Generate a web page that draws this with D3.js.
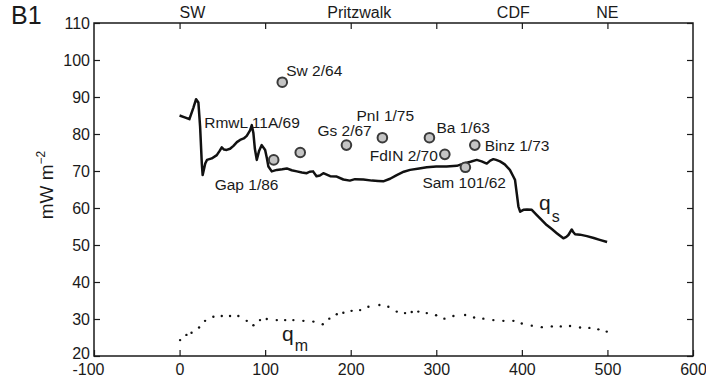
<!DOCTYPE html>
<html>
<head>
<meta charset="utf-8">
<script src="https://cdn.jsdelivr.net/npm/d3@7/dist/d3.min.js"></script>
<style>
  html, body { margin: 0; padding: 0; background: #fff; }
  svg { display: block; font-family: "Liberation Sans", Arial, Helvetica, sans-serif; }
</style>
</head>
<body>
<svg id="chart" width="706" height="378"></svg>
<script>
// Surface heat flow q_s along profile B1 (distance in km, flow in mW m^-2)
const qsDist = [0, 6, 11.5, 16, 19.3, 22, 24, 26, 27, 30, 32, 37.6, 43.5, 47, 49.3, 52, 55, 59, 63, 67,
  70.7, 75, 78.5, 82.4, 84.4, 86.3, 88, 90.2, 93, 96, 100, 102, 103.8, 107.7, 113.6, 120, 125.3, 131,
  137, 143, 148.6, 152, 156, 160, 164, 168, 176, 183.7, 191.4, 199, 205, 214.8, 225, 232, 238, 246,
  253.8, 262, 269.4, 280, 288.9, 300, 312, 324, 331.6, 340, 347.3, 353, 359, 363, 366.7, 370, 374.5,
  380, 386, 390, 392, 394, 396, 398, 401.8, 406, 411.6, 417.5, 423, 429, 435, 440.8, 448.5, 452,
  454.4, 458.3, 460, 462.2, 468, 476, 484, 491, 499.6];
const qsFlow = [85, 84.5, 84, 87, 89.4, 88.5, 82, 72, 68.9, 72, 73, 73.4, 74.3, 75.5, 76.4, 75.8, 75.7, 76, 76.8, 77.8,
  78.4, 78.8, 79.5, 81, 82.4, 80.2, 76, 73, 75.5, 77, 75.7, 73.5, 71.2, 69.9, 70.3, 70.5, 70.7, 70.2,
  69.9, 69.6, 69.4, 69.8, 69.9, 68.6, 68.8, 69.4, 68.6, 68.5, 67.7, 67.4, 67.8, 67.7, 67.4, 67.3, 67.2, 67.9,
  68.9, 69.8, 70.3, 70.7, 71, 71.2, 71.2, 71.4, 72, 72.5, 73, 72.6, 72, 72.8, 73.2, 73, 72.6,
  71.8, 70.3, 68.5, 67.6, 64, 60.4, 59, 59.5, 59.6, 59.5, 58.1, 56.8, 55.4, 54.3, 53.2, 51.8, 52.2,
  52.7, 54.2, 53.5, 52.9, 52.8, 52.4, 51.9, 51.4, 50.8];

// Mantle heat flow q_m, sampled points
const qmDist = [0.6, 8, 14, 22.8, 29.8, 39.5, 49.3, 59, 68.7, 78.5, 86.3, 94, 101.9, 113.6, 123.4, 133,
  144.7, 156.4, 167.3, 175, 183.7, 191.4, 201, 211, 220.7, 233.5, 244, 253.8, 263.5, 271.3, 279,
  288.9, 299.8, 309.5, 320, 333.7, 344.2, 355, 366.7, 378.4, 390.1, 399.9, 411.6, 423.3, 435, 445.5,
  456.3, 468, 478.9, 489.4, 499.2];
const qmFlow = [24.3, 25.7, 26.3, 27.7, 29.5, 30.6, 30.8, 30.8, 30.8, 29.5, 28.3, 29.7, 30, 29.7, 29.7, 29.7,
  29.5, 29.3, 28.6, 30.1, 31.3, 31.7, 32.2, 32.4, 33.3, 33.8, 33.3, 32, 31.6, 31.9, 32,
  31.6, 31, 30.1, 30.8, 31.1, 30.4, 30.1, 29.7, 29.5, 29.5, 28.8, 28.2, 27.8, 28, 28,
  28.1, 27.7, 27.6, 27.2, 26.6];

// Borehole stations
const stationNames = ["Sw 2/64", "RmwL 11A/69", "Gap 1/86", "Gs 2/67", "PnI 1/75", "Ba 1/63", "Binz 1/73", "FdIN 2/70", "Sam 101/62"];
const stationDist = [120, 141, 110, 195, 237, 292, 345, 310, 334];
const stationFlow = [94, 75, 73, 77, 79, 79, 77, 74.5, 71];
// label placement relative to each marker: [dx, dy, anchor]
const labelOffsets = [[4, -6, "start"], [-96, -25, "start"], [-59, 30, "start"], [-29, -9, "start"],
  [-26, -17, "start"], [7, -5, "start"], [10, 6, "start"], [-7, 7, "end"], [-43, 21, "start"]];

// Axis ticks and place names along the top edge
const xTicks = [-100, 0, 100, 200, 300, 400, 500, 600];
const yTicks = [20, 30, 40, 50, 60, 70, 80, 90, 100, 110];
const topTicks = [0, 100, 200, 300, 400, 500];
const placeNames = ["SW", "Pritzwalk", "CDF", "NE"];
const placeDist = [15, 210, 390, 500];

const svg = d3.select("#chart");
const x = d3.scaleLinear().domain([-100, 600]).range([94, 693]);
const y = d3.scaleLinear().domain([20, 110]).range([356, 23]);
const ink = "#1a1a1a";

// Frame
svg.append("rect")
  .attr("x", x(-100)).attr("y", y(110))
  .attr("width", x(600) - x(-100)).attr("height", y(20) - y(110))
  .attr("fill", "none").attr("stroke", ink).attr("stroke-width", 1.5);

// Bottom axis (ticks pointing inward)
const gx = svg.append("g").attr("transform", `translate(0,${y(20)})`)
  .call(d3.axisBottom(x).tickValues(xTicks).tickSizeInner(-6).tickSizeOuter(0).tickPadding(8)
    .tickFormat(d => d < 0 ? "-" + Math.abs(d) : d));
gx.select(".domain").remove();
gx.selectAll("line").attr("stroke", ink).attr("stroke-width", 1.2);
gx.selectAll("text").attr("font-size", 16).attr("fill", ink).attr("font-family", null)
  .attr("dx", d => d === -100 ? -6 : 0);

// Left axis
const gy = svg.append("g").attr("transform", `translate(${x(-100)},0)`)
  .call(d3.axisLeft(y).tickValues(yTicks).tickSizeInner(-6).tickSizeOuter(0).tickPadding(4));
gy.select(".domain").remove();
gy.selectAll("line").attr("stroke", ink).attr("stroke-width", 1.2);
gy.selectAll("text").attr("font-size", 16).attr("fill", ink).attr("font-family", null)
  .attr("y", d => d === 20 ? -3 : 0);

// Mirrored ticks on top and right
const gt = svg.append("g").attr("transform", `translate(0,${y(110)})`)
  .call(d3.axisTop(x).tickValues(topTicks).tickSizeInner(-6).tickSizeOuter(0).tickFormat(""));
gt.select(".domain").remove();
gt.selectAll("line").attr("stroke", ink).attr("stroke-width", 1.2);

const gr = svg.append("g").attr("transform", `translate(${x(600)},0)`)
  .call(d3.axisRight(y).tickValues(yTicks).tickSizeInner(-6).tickSizeOuter(0).tickFormat(""));
gr.select(".domain").remove();
gr.selectAll("line").attr("stroke", ink).attr("stroke-width", 1.2);

// Place names above the frame
svg.append("g").selectAll("text").data(placeNames).join("text")
  .attr("x", (d, i) => x(placeDist[i])).attr("y", 18)
  .attr("text-anchor", "middle").attr("font-size", 16).attr("fill", ink)
  .text(d => d);

// Panel letter
svg.append("text").attr("x", 11).attr("y", 24).attr("font-size", 25).attr("fill", ink).text("B1");

// Y axis title
const yt = svg.append("text")
  .attr("transform", "translate(53,185) rotate(-90)")
  .attr("text-anchor", "middle").attr("font-size", 19).attr("fill", ink);
yt.append("tspan").text("mW m");
yt.append("tspan").attr("font-size", 12).attr("dy", -8).text("\u22122");

// q_s curve
const qsData = qsDist.map((d, i) => [d, qsFlow[i]]);
svg.append("path").datum(qsData)
  .attr("fill", "none").attr("stroke", "#111").attr("stroke-width", 2.5)
  .attr("stroke-linejoin", "round")
  .attr("d", d3.line().x(d => x(d[0])).y(d => y(d[1])));

// q_m dotted trace
svg.append("g").selectAll("circle").data(qmDist).join("circle")
  .attr("cx", d => x(d)).attr("cy", (d, i) => y(qmFlow[i]))
  .attr("r", 1.2).attr("fill", "#111");

// Station markers and labels
svg.append("g").selectAll("circle").data(stationNames).join("circle")
  .attr("cx", (d, i) => x(stationDist[i])).attr("cy", (d, i) => y(stationFlow[i]))
  .attr("r", 4.8).attr("fill", "#c4c4c4").attr("stroke", "#3a3a3a").attr("stroke-width", 2);

svg.append("g").selectAll("text").data(stationNames).join("text")
  .attr("x", (d, i) => x(stationDist[i]) + labelOffsets[i][0])
  .attr("y", (d, i) => y(stationFlow[i]) + labelOffsets[i][1])
  .attr("text-anchor", (d, i) => labelOffsets[i][2])
  .attr("font-size", 15.5).attr("fill", ink)
  .text(d => d);

// Curve labels
const qsLab = svg.append("text").attr("x", 539).attr("y", 209.5).attr("font-size", 21).attr("fill", ink);
qsLab.append("tspan").text("q");
qsLab.append("tspan").attr("font-size", 16).attr("dy", 12).attr("dx", 1).text("s");

const qmLab = svg.append("text").attr("x", 282).attr("y", 340.5).attr("font-size", 21).attr("fill", ink);
qmLab.append("tspan").text("q");
qmLab.append("tspan").attr("font-size", 16).attr("dy", 10).attr("dx", 1).text("m");
</script>
</body>
</html>
